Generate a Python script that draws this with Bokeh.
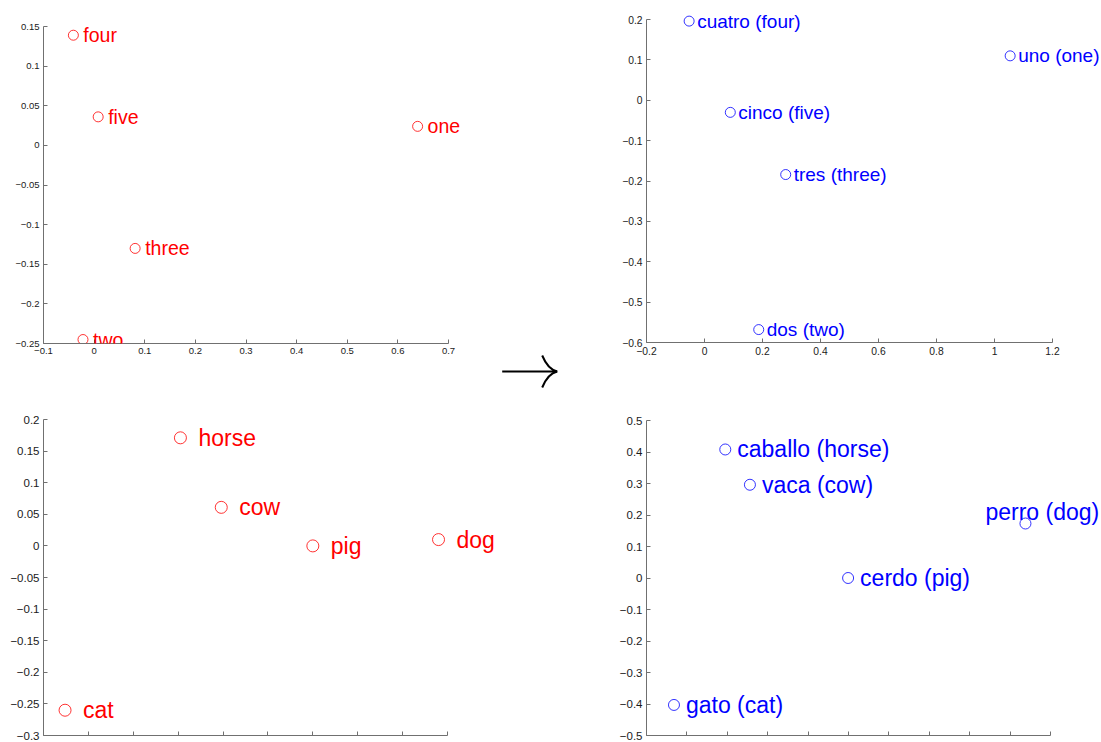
from bokeh.plotting import figure
from bokeh.models import (ColumnDataSource, LabelSet, Range1d, FixedTicker,
                          CustomJSTickFormatter)
from bokeh.layouts import row, column
from bokeh.core.properties import value
from bokeh.embed import file_html
from bokeh.resources import INLINE

# ---------------- data ----------------
en_numbers = ["four", "five", "one", "three", "two"]
en_numbers_x = [-0.041, 0.008, 0.639, 0.081, -0.022]
en_numbers_y = [0.139, 0.036, 0.024, -0.130, -0.245]

es_numbers = ["cuatro (four)", "cinco (five)", "uno (one)", "tres (three)", "dos (two)"]
es_numbers_x = [-0.053, 0.089, 1.054, 0.280, 0.187]
es_numbers_y = [0.196, -0.030, 0.110, -0.184, -0.568]

en_animals = ["horse", "cow", "pig", "dog", "cat"]
en_animals_x = [0.205, 0.296, 0.500, 0.780, -0.052]
en_animals_y = [0.171, 0.061, 0.000, 0.010, -0.260]

es_animals = ["caballo (horse)", "vaca (cow)", "perro (dog)", "cerdo (pig)", "gato (cat)"]
es_animals_x = [0.195, 0.256, 0.938, 0.499, 0.068]
es_animals_y = [0.408, 0.296, 0.173, 0.000, -0.403]

# tick values
tl_xticks = [-0.1, 0, 0.1, 0.2, 0.3, 0.4, 0.5, 0.6, 0.7]
tl_yticks = [-0.25, -0.2, -0.15, -0.1, -0.05, 0, 0.05, 0.1, 0.15]
tr_xticks = [-0.2, 0, 0.2, 0.4, 0.6, 0.8, 1, 1.2]
tr_yticks = [-0.6, -0.5, -0.4, -0.3, -0.2, -0.1, 0, 0.1, 0.2]
bl_xticks = [-0.1, 0, 0.1, 0.2, 0.3, 0.4, 0.5, 0.6, 0.7, 0.8]
bl_yticks = [-0.3, -0.25, -0.2, -0.15, -0.1, -0.05, 0, 0.05, 0.1, 0.15, 0.2]
br_xticks = [0, 0.1, 0.2, 0.3, 0.4, 0.5, 0.6, 0.7, 0.8, 0.9, 1.0]
br_yticks = [-0.5, -0.4, -0.3, -0.2, -0.1, 0, 0.1, 0.2, 0.3, 0.4, 0.5]

RED = "#ff0000"
BLUE = "#0000ff"
FONT = "Liberation Sans"
AXIS_COLOR = "#707070"
TICK_LABEL_COLOR = "#1a1a1a"

fmt_code = """
const s = String(parseFloat(tick.toFixed(6)));
return s.replace('-', '\\u2212');
"""
blank_code = "return '';"


def panel(names, xs, ys, xt, yt, color, geom, text_size, dx,
          msize, tick_size, show_x_labels, special=None):
    # geom: left border, x-axis length, frame width, top border,
    #       frame height, y-axis length, bottom border
    L, ax_len, fw, T, fh, ay_len, B = geom
    x0, x1 = xt[0], xt[-1]
    y0, y1 = yt[0], yt[-1]
    x_end = x0 + fw * (x1 - x0) / ax_len
    y_end = y0 + fh * (y1 - y0) / ay_len
    p = figure(frame_width=fw, frame_height=fh,
               x_range=Range1d(x0, x_end), y_range=Range1d(y0, y_end),
               output_backend="svg", toolbar_location=None,
               min_border_left=L, min_border_right=0,
               min_border_top=T, min_border_bottom=B)
    p.xgrid.visible = False
    p.ygrid.visible = False
    p.outline_line_color = None
    p.background_fill_color = "white"
    p.border_fill_color = "white"
    for ax in (p.xaxis[0], p.yaxis[0]):
        ax.axis_line_color = AXIS_COLOR
        ax.axis_line_width = 1
        ax.major_tick_line_color = AXIS_COLOR
        ax.major_tick_in = 4
        ax.major_tick_out = 0
        ax.minor_tick_line_color = None
        ax.major_label_text_font = FONT
        ax.major_label_text_font_size = tick_size
        ax.major_label_text_color = TICK_LABEL_COLOR
        ax.major_label_standoff = 4
    p.xaxis[0].bounds = (x0, x1)
    p.yaxis[0].bounds = (y0, y1)
    p.xaxis[0].ticker = FixedTicker(ticks=xt)
    p.yaxis[0].ticker = FixedTicker(ticks=yt)
    p.yaxis[0].formatter = CustomJSTickFormatter(code=fmt_code)
    if show_x_labels:
        p.xaxis[0].formatter = CustomJSTickFormatter(code=fmt_code)
    else:
        p.xaxis[0].formatter = CustomJSTickFormatter(code=blank_code)
        p.xaxis[0].major_label_text_font_size = "0px"
        p.xaxis[0].major_label_standoff = 0

    offx = [dx] * len(names)
    offy = [0] * len(names)
    if special:
        for name, (sx, sy) in special.items():
            i = names.index(name)
            offx[i] = sx
            offy[i] = sy
    src = ColumnDataSource(dict(x=xs, y=ys, name=names, dx=offx, dy=offy))
    p.scatter("x", "y", source=src, marker="circle", size=msize,
              fill_color=None, line_color=color, line_width=0.8)
    labels = LabelSet(x="x", y="y", text="name", source=src,
                      x_offset="dx", y_offset="dy",
                      text_font=value(FONT), text_font_size=text_size,
                      text_color=color, text_align="left",
                      text_baseline="middle")
    p.add_layout(labels)
    return p


tl = panel(en_numbers, en_numbers_x, en_numbers_y, tl_xticks, tl_yticks, RED,
           (43, 405, 452, 8, 335, 317, 57), "19.5px", 10, 10, "9.5px", True)
tr = panel(es_numbers, es_numbers_x, es_numbers_y, tr_xticks, tr_yticks, BLUE,
           (44, 406, 457, 4, 338, 323, 58), "19px", 8, 10, "10.3px", True)
bl = panel(en_animals, en_animals_x, en_animals_y, bl_xticks, bl_yticks, RED,
           (43, 404, 452, 5, 330, 316, 7), "23px", 18, 12, "11.5px", False)
br = panel(es_animals, es_animals_x, es_animals_y, br_xticks, br_yticks, BLUE,
           (46, 404, 455, 5, 330, 315, 7), "23px", 12, 11, "11.5px", False,
           special={"perro (dog)": (-40, 12)})

# decorative arrow between the panels (pixel coordinates of its own canvas)
AW, AH = 105, 742
arrow = figure(width=AW, height=AH, x_range=Range1d(0, AW), y_range=Range1d(AH, 0),
               output_backend="svg", toolbar_location=None, min_border=0,
               x_axis_location=None, y_axis_location=None)
arrow.xgrid.visible = False
arrow.ygrid.visible = False
arrow.outline_line_color = None
shaft_y = 371
arrow.segment(x0=[6.7], y0=[shaft_y], x1=[61.7], y1=[shaft_y],
              line_width=2, line_color="black")
arrow.quadratic(x0=[46.7, 46.7], y0=[shaft_y - 16, shaft_y + 16],
                x1=[61.7, 61.7], y1=[shaft_y, shaft_y],
                cx=[52.5, 52.5], cy=[shaft_y - 2, shaft_y + 2],
                line_width=2, line_color="black")

layout = row(column(tl, bl), arrow, column(tr, br))

open("out.html", "w").write(file_html(layout, INLINE))
